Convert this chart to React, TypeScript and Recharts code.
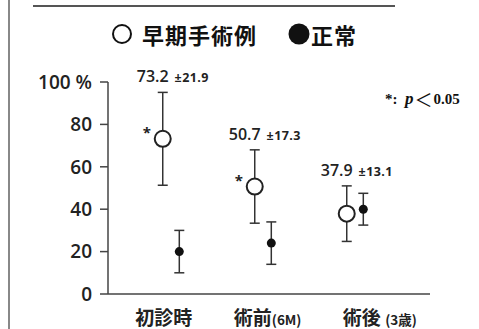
import React from "react";
import { ScatterChart, Scatter, XAxis, YAxis, ErrorBar, Legend } from "recharts";

// categories and tick labels
const categories = ["初診時", "術前", "術後 "];
const categorySub = ["", "(6M)", "(3歳)"];
const catX = [1, 2, 3];
const labelX = [0.92, 2.05, 3.27];
const yTicks = [0, 20, 40, 60, 80, 100];

// 早期手術例 (mean ± SD)
const earlyMean = [73.2, 50.7, 37.9];
const earlySd = [21.9, 17.3, 13.1];
const earlySig = [true, true, false];

// 正常 (mean ± SD)
const normalMean = [20, 24, 40];
const normalSd = [10, 10, 7.5];

const SHIFT = 0.09;
const sans = "'Open Sans', 'Noto Sans CJK JP', sans-serif";
const cjk = "'Noto Sans CJK JP', sans-serif";

const earlyData = catX.map((x, i) => ({
  x: x - SHIFT,
  y: earlyMean[i],
  err: earlySd[i],
  sig: earlySig[i],
}));
const normalData = catX.map((x, i) => ({
  x: x + SHIFT,
  y: normalMean[i],
  err: normalSd[i],
}));
const labelData = catX.map((x, i) => ({
  x: x - SHIFT,
  y: earlyMean[i] + earlySd[i],
  mean: earlyMean[i],
  sd: earlySd[i],
}));

const OpenDot = (props: any) => {
  const { cx, cy, payload } = props;
  return (
    <g>
      {payload.sig && (
        <text x={cx - 16} y={cy - 1} textAnchor="middle" fontSize={15} fontWeight={700} fill="#222" fontFamily={sans}>
          *
        </text>
      )}
      <circle cx={cx} cy={cy} r={8} fill="#fff" stroke="#222" strokeWidth={2} />
    </g>
  );
};

const FilledDot = (props: any) => {
  const { cx, cy } = props;
  return <circle cx={cx} cy={cy} r={4.5} fill="#111" />;
};

const ValueLabel = (props: any) => {
  const { cx, cy, payload } = props;
  return (
    <text x={cx - 26} y={cy - 10} textAnchor="start" fill="#222" fontFamily={sans}>
      <tspan fontSize={16} fontWeight={600}>{payload.mean.toFixed(1)}</tspan>
      <tspan fontSize={12.5} fontWeight={700} dx={6} letterSpacing={0.4}>±{payload.sd.toFixed(1)}</tspan>
    </text>
  );
};

const CategoryTick = (props: any) => {
  const { x, y, index } = props;
  return (
    <text x={x} y={y + 31} textAnchor="middle" fill="#222" fontFamily={cjk} fontWeight={700}>
      <tspan fontSize={19}>{categories[index]}</tspan>
      <tspan fontSize={13.5}>{categorySub[index]}</tspan>
    </text>
  );
};

const LegendContent = (props: any) => {
  const items = (props.payload || []).filter((p: any) => p.type !== "none");
  const lefts = [111, 288];
  return (
    <div style={{ position: "relative", height: 0 }}>
      {items.map((item: any, i: number) => (
        <div
          key={item.value}
          style={{
            position: "absolute",
            left: lefts[i],
            top: 18,
            display: "flex",
            alignItems: "center",
            fontFamily: cjk,
            fontWeight: 700,
            fontSize: 22,
            color: "#111",
            whiteSpace: "nowrap",
            letterSpacing: 1,
          }}
        >
          <svg width={22} height={22} style={{ marginRight: i === 0 ? 9 : 1 }}>
            {i === 0 ? (
              <circle cx={11} cy={11} r={9} fill="#fff" stroke="#111" strokeWidth={2} />
            ) : (
              <circle cx={11} cy={11} r={10.5} fill="#111" />
            )}
          </svg>
          {item.value}
        </div>
      ))}
    </div>
  );
};

export default function App() {
  return (
    <div style={{ position: "absolute", left: 0, top: 0, width: 479, height: 329, background: "#fff" }}>
      <div style={{ position: "absolute", left: 8, top: 0, width: 1.5, height: 329, background: "#888" }} />
      <div style={{ position: "absolute", left: 33, top: 5, width: 362, height: 1.5, background: "#555" }} />
      <ScatterChart width={479} height={329} margin={{ top: 82, right: 49, bottom: 5, left: 0 }}>
        <XAxis
          type="number"
          dataKey="x"
          domain={[0.315, 3.815]}
          allowDataOverflow
          ticks={labelX}
          tick={<CategoryTick />}
          tickLine={false}
          tickSize={0}
          tickMargin={0}
          height={30}
          stroke="#444"
          strokeWidth={1.5}
        />
        <YAxis
          type="number"
          dataKey="y"
          domain={[0, 100]}
          ticks={yTicks}
          width={108}
          tickSize={8}
          tickMargin={8}
          stroke="#444"
          strokeWidth={1.5}
          tick={{ fill: "#222", fontSize: 19, fontWeight: 600, fontFamily: sans }}
          tickFormatter={(v: number) => (v === 100 ? "100 %" : String(v))}
        />
        <Legend
          content={<LegendContent />}
          verticalAlign="top"
          wrapperStyle={{ position: "absolute", top: 0, left: 0, width: 479, height: 0 }}
        />
        <Scatter name="早期手術例" data={earlyData} shape={<OpenDot />} isAnimationActive={false}>
          <ErrorBar dataKey="err" direction="y" width={5} stroke="#333" strokeWidth={1.5} />
        </Scatter>
        <Scatter name="正常" data={normalData} shape={<FilledDot />} isAnimationActive={false}>
          <ErrorBar dataKey="err" direction="y" width={5} stroke="#333" strokeWidth={1.5} />
        </Scatter>
        <Scatter name="labels" legendType="none" data={labelData} shape={<ValueLabel />} isAnimationActive={false} />
      </ScatterChart>
      <div
        style={{
          position: "absolute",
          left: 385,
          top: 86,
          fontFamily: "'Liberation Serif', serif",
          fontWeight: 700,
          fontSize: 15,
          color: "#111",
          whiteSpace: "nowrap",
          display: "flex",
          alignItems: "center",
        }}
      >
        <span>*:&nbsp;&nbsp;</span>
        <i style={{ fontSize: 17 }}>p</i>
        <span style={{ fontFamily: cjk, fontSize: 18, fontWeight: 400, margin: "0 1px" }}>＜</span>
        <span>0.05</span>
      </div>
    </div>
  );
}
